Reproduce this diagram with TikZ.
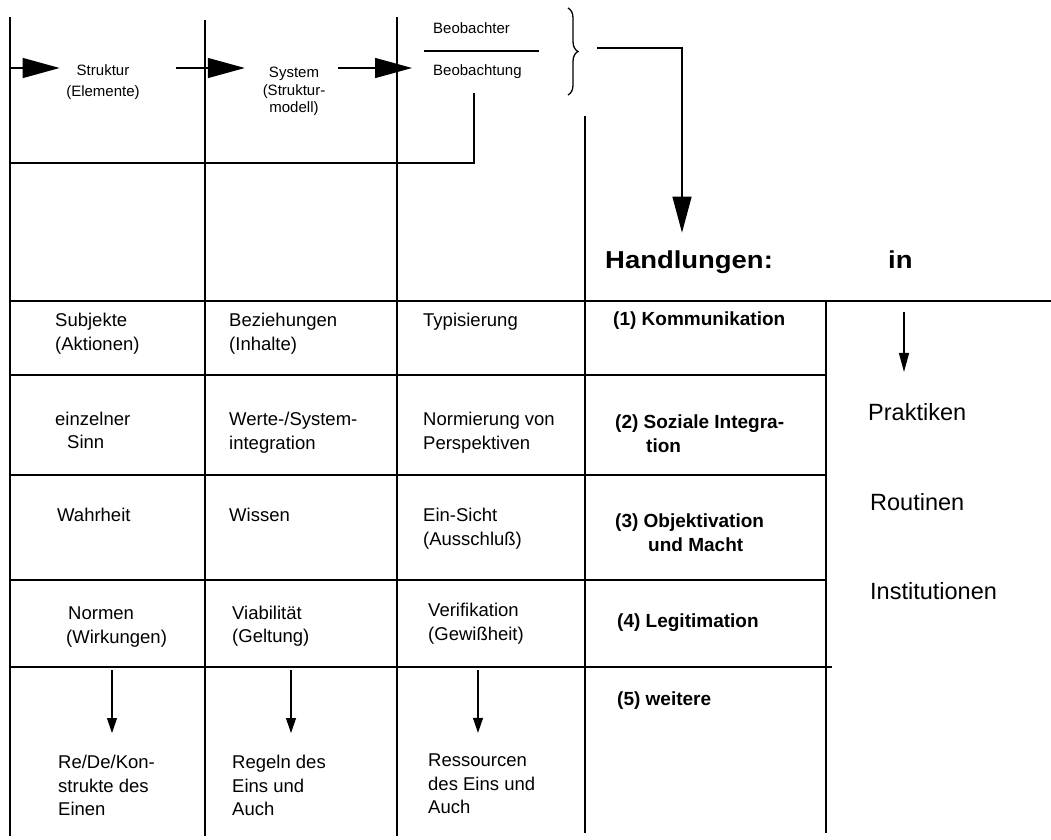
\documentclass[tikz,border=0pt]{standalone}
\usepackage{fontspec}
\setmainfont{Liberation Sans}
\newfontfamily\handfont{Liberation Sans}[FakeStretch=1.12]
\usetikzlibrary{arrows.meta,decorations.pathreplacing,calc}
\begin{document}
\begin{tikzpicture}[x=1pt,y=-1pt,
  frame/.style={line width=1.4pt},
  cell/.style={inner sep=0pt, anchor=west, align=left, font=\fontsize{18.5}{23.5}\selectfont},
  cellone/.style={inner sep=0pt, anchor=base west, font=\fontsize{18.5}{23.5}\selectfont},
  boldcell/.style={inner sep=0pt, anchor=west, align=left, font=\fontsize{19}{23.5}\selectfont\bfseries},
  boldone/.style={inner sep=0pt, anchor=base west, font=\fontsize{19}{23.5}\selectfont\bfseries},
  sidetext/.style={inner sep=0pt, anchor=base west, font=\fontsize{23.5}{28}\selectfont},
  headtext/.style={inner sep=0pt, anchor=base west, font=\handfont\fontsize{24.5}{28}\selectfont\bfseries},
  smalltxt/.style={inner sep=0pt, font=\fontsize{15}{18}\selectfont},
  bigtip/.style={-{Triangle[length=37pt,width=20pt]}, line width=1.4pt},
  bracetip/.style={-{Triangle[length=36pt,width=19pt]}, line width=1.4pt},
  midtip/.style={-{Triangle[length=19pt,width=10pt]}, line width=1.2pt},
  smalltip/.style={-{Triangle[length=15pt,width=10pt]}, line width=1.2pt}
]
\useasboundingbox (0,0) rectangle (1051,839);

% grid
\draw[frame] (10,17) -- (10,836);
\draw[frame] (205,20) -- (205,836);
\draw[frame] (397,17) -- (397,836);
\draw[frame] (585,116) -- (585,833);
\draw[frame] (826,301) -- (826,833);
\draw[frame] (10,301) -- (1051,301);
\draw[frame] (10,375) -- (826,375);
\draw[frame] (10,475) -- (826,475);
\draw[frame] (10,580) -- (826,580);
\draw[frame] (10,667) -- (832,667);

% top row
\node[smalltxt, align=center, font=\fontsize{15}{21}\selectfont] (strukt) at (103,82) {Struktur\\(Elemente)};
\node[smalltxt, align=center, font=\fontsize{15}{17.5}\selectfont] (sys) at (294,91.6) {System\\(Struktur-\\modell)};
\node[smalltxt, anchor=base west] (beob1) at (433,33.4) {Beobachter};
\node[smalltxt, anchor=base west] (beob2) at (433,75) {Beobachtung};
\draw[line width=1.4pt] (424,51) -- (539,51);

\coordinate (ay) at (0,68);
\coordinate (lstart) at (10,68);
\draw[bigtip] (lstart) -- ([xshift=-6.5pt]ay -| strukt.west);
\draw[bigtip] ([xshift=36.5pt]ay -| strukt.east) -- ([xshift=-17.75pt]ay -| sys.west);
\draw[bigtip] ([xshift=13pt]ay -| sys.east) -- ([xshift=-21pt]ay -| beob2.west);

\coordinate (fb) at (474,93);
\coordinate (fbend) at (10,163);
\draw[line width=1.8pt] (fb) |- (fbend);

% brace and arrow to Handlungen
\draw[line width=1.3pt, decorate, decoration={brace, amplitude=10pt}] (568,8) -- (568,95);
\node[headtext] (hand) at (605,268.6) {Handlungen:};
\node[headtext] (in) at (888,268.6) {in};
\coordinate (bt) at (597,48);
\draw[bracetip] (bt) -| ([xshift=77pt,yshift=18pt]hand.north west);

% row 1
\node[cell] (c1a) at (55,333.5) {Subjekte\\(Aktionen)};
\node[cell] (c2a) at (229,333.5) {Beziehungen\\(Inhalte)};
\node[cellone] (c3a) at (423,326.6) {Typisierung};
\node[boldone] (c4a) at (613,325) {(1) Kommunikation};
% row 2
\node[cell] (c1b) at (55,430.5) {einzelner\\\hspace*{12pt}Sinn};
\node[cell] (c2b) at (229,432.5) {Werte-/System-\\integration};
\node[cell] (c3b) at (423,432.5) {Normierung von\\Perspektiven};
\node[boldcell] (c4b) at (615,433.5) {(2) Soziale Integra-\\\hspace*{31pt}tion};
% row 3
\node[cellone] (c1c) at (57,521.6) {Wahrheit};
\node[cellone] (c2c) at (229,521.6) {Wissen};
\node[cell] (c3c) at (423,528.5) {Ein-Sicht\\(Ausschluß)};
\node[boldcell] (c4c) at (615,532.5) {(3) Objektivation\\\hspace*{33pt}und Macht};
% row 4
\node[cell] (c1d) at (66,627) {\hspace*{2pt}Normen\\(Wirkungen)};
\node[cell] (c2d) at (232,626) {Viabilität\\(Geltung)};
\node[cell] (c3d) at (428,623.5) {Verifikation\\(Gewißheit)};
\node[boldone] (c4d) at (617,627) {(4) Legitimation};
% row 5
\node[cell] (c1e) at (58,785.5) {Re/De/Kon-\\strukte des\\Einen};
\node[cell] (c2e) at (232,785.5) {Regeln des\\Eins und\\Auch};
\node[cell] (c3e) at (428,784) {Ressourcen\\des Eins und\\Auch};
\node[boldone] (c4e) at (617,705) {(5) weitere};

\coordinate (s1) at (112,670);
\coordinate (s2) at (291,670);
\coordinate (s3) at (478,670);
\draw[smalltip, shorten >=22pt] (s1) -- (s1 |- c1e.north);
\draw[smalltip, shorten >=22pt] (s2) -- (s2 |- c2e.north);
\draw[smalltip, shorten >=21pt] (s3) -- (s3 |- c3e.north);

% right column
\node[sidetext] (prak) at (868,420) {Praktiken};
\node[sidetext] (rout) at (870,510) {Routinen};
\node[sidetext] (inst) at (870,599) {Institutionen};
\coordinate (ra) at (904,312);
\draw[midtip, shorten >=30.8pt] (ra) -- (ra |- prak.north);
\end{tikzpicture}
\end{document}
